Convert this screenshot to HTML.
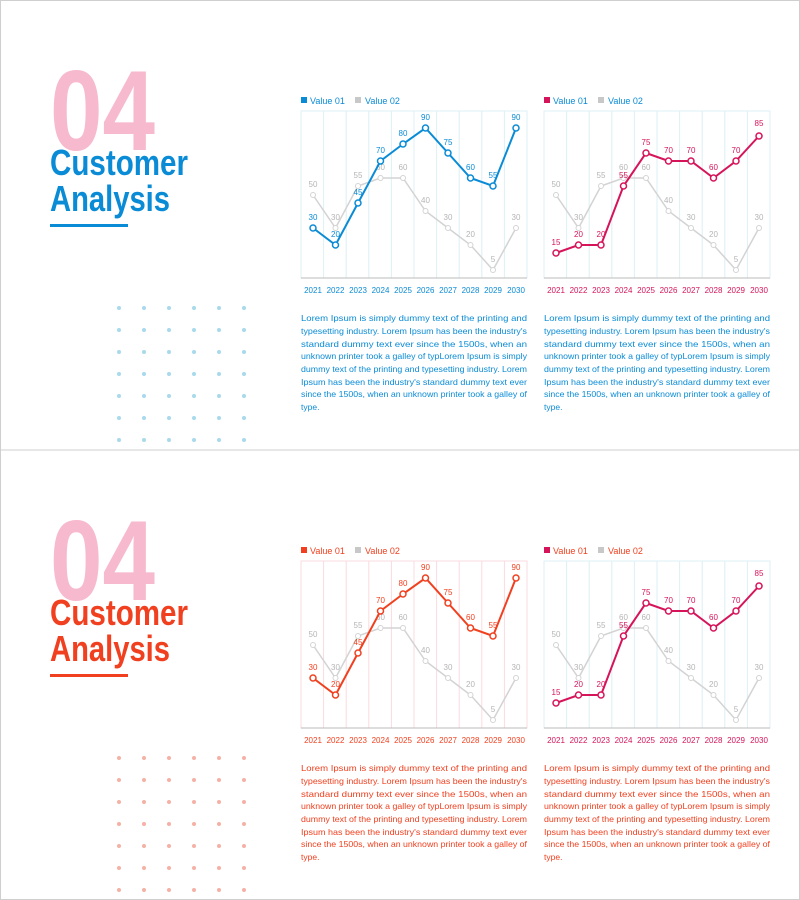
<!DOCTYPE html>
<html><head><meta charset="utf-8"><style>
html,body{margin:0;padding:0;background:#fff}
svg{display:block}
.t{font-family:"Liberation Sans Narrow","Liberation Sans",sans-serif}
</style></head><body>
<svg width="800" height="900" viewBox="0 0 800 900" xmlns="http://www.w3.org/2000/svg" class="t">
<rect x="0.5" y="0.5" width="799" height="899" fill="#fff" stroke="#cfcfcf"/>
<line x1="0" y1="450" x2="800" y2="450" stroke="#cfcfcf"/>

<!-- ================= TOP SLIDE ================= -->
<g>
<text x="50" y="150" font-size="114" font-weight="bold" fill="#f7b9cd" textLength="105" lengthAdjust="spacingAndGlyphs">04</text>
<text x="50" y="175" font-size="36" font-weight="bold" fill="#0a8bd6" textLength="138" lengthAdjust="spacingAndGlyphs">Customer</text>
<text x="50" y="211" font-size="36" font-weight="bold" fill="#0a8bd6" textLength="120" lengthAdjust="spacingAndGlyphs">Analysis</text>
<rect x="50" y="224" width="78" height="3" fill="#0a8bd6"/>
<g fill="#a9d9ec">
<circle cx="119" cy="308" r="2"/><circle cx="144" cy="308" r="2"/><circle cx="169" cy="308" r="2"/><circle cx="194" cy="308" r="2"/><circle cx="219" cy="308" r="2"/><circle cx="244" cy="308" r="2"/>
<circle cx="119" cy="330" r="2"/><circle cx="144" cy="330" r="2"/><circle cx="169" cy="330" r="2"/><circle cx="194" cy="330" r="2"/><circle cx="219" cy="330" r="2"/><circle cx="244" cy="330" r="2"/>
<circle cx="119" cy="352" r="2"/><circle cx="144" cy="352" r="2"/><circle cx="169" cy="352" r="2"/><circle cx="194" cy="352" r="2"/><circle cx="219" cy="352" r="2"/><circle cx="244" cy="352" r="2"/>
<circle cx="119" cy="374" r="2"/><circle cx="144" cy="374" r="2"/><circle cx="169" cy="374" r="2"/><circle cx="194" cy="374" r="2"/><circle cx="219" cy="374" r="2"/><circle cx="244" cy="374" r="2"/>
<circle cx="119" cy="396" r="2"/><circle cx="144" cy="396" r="2"/><circle cx="169" cy="396" r="2"/><circle cx="194" cy="396" r="2"/><circle cx="219" cy="396" r="2"/><circle cx="244" cy="396" r="2"/>
<circle cx="119" cy="418" r="2"/><circle cx="144" cy="418" r="2"/><circle cx="169" cy="418" r="2"/><circle cx="194" cy="418" r="2"/><circle cx="219" cy="418" r="2"/><circle cx="244" cy="418" r="2"/>
<circle cx="119" cy="440" r="2"/><circle cx="144" cy="440" r="2"/><circle cx="169" cy="440" r="2"/><circle cx="194" cy="440" r="2"/><circle cx="219" cy="440" r="2"/><circle cx="244" cy="440" r="2"/>
</g>

<!-- chart 1 -->
<g>
<rect x="301" y="97" width="6" height="6" fill="#0a8bd6"/><text x="310" y="104" font-size="9" fill="#0a8bd6">Value 01</text>
<rect x="355" y="97" width="6" height="6" fill="#c8c8c8"/><text x="365" y="104" font-size="9" fill="#0a8bd6">Value 02</text>
<rect x="301" y="111" width="226" height="167" fill="none" stroke="#dcf0f6"/>
<g stroke="#dcf0f6"><line x1="323.6" y1="111" x2="323.6" y2="278"/><line x1="346.2" y1="111" x2="346.2" y2="278"/><line x1="368.8" y1="111" x2="368.8" y2="278"/><line x1="391.4" y1="111" x2="391.4" y2="278"/><line x1="414" y1="111" x2="414" y2="278"/><line x1="436.6" y1="111" x2="436.6" y2="278"/><line x1="459.2" y1="111" x2="459.2" y2="278"/><line x1="481.8" y1="111" x2="481.8" y2="278"/><line x1="504.4" y1="111" x2="504.4" y2="278"/></g>
<line x1="301" y1="278" x2="527" y2="278" stroke="#bbb"/>
<polyline points="313,195 335.5,228 358,186 380.5,178 403,178 425.5,211 448,228 470.5,245 493,270 516,228" fill="none" stroke="#d3d3d3" stroke-width="1.5"/>
<g fill="#fff" stroke="#d3d3d3"><circle cx="313" cy="195" r="2.5"/><circle cx="335.5" cy="228" r="2.5"/><circle cx="358" cy="186" r="2.5"/><circle cx="380.5" cy="178" r="2.5"/><circle cx="403" cy="178" r="2.5"/><circle cx="425.5" cy="211" r="2.5"/><circle cx="448" cy="228" r="2.5"/><circle cx="470.5" cy="245" r="2.5"/><circle cx="493" cy="270" r="2.5"/><circle cx="516" cy="228" r="2.5"/></g>
<g font-size="8" fill="#b5b5b5" text-anchor="middle"><text x="313" y="187">50</text><text x="335.5" y="220">30</text><text x="358" y="178">55</text><text x="380.5" y="170">60</text><text x="403" y="170">60</text><text x="425.5" y="203">40</text><text x="448" y="220">30</text><text x="470.5" y="237">20</text><text x="493" y="262">5</text><text x="516" y="220">30</text></g>
<polyline points="313,228 335.5,245 358,203 380.5,161 403,144 425.5,128 448,153 470.5,178 493,186 516,128" fill="none" stroke="#0a8bd6" stroke-width="2"/>
<g fill="#fff" stroke="#0a8bd6" stroke-width="1.5"><circle cx="313" cy="228" r="3"/><circle cx="335.5" cy="245" r="3"/><circle cx="358" cy="203" r="3"/><circle cx="380.5" cy="161" r="3"/><circle cx="403" cy="144" r="3"/><circle cx="425.5" cy="128" r="3"/><circle cx="448" cy="153" r="3"/><circle cx="470.5" cy="178" r="3"/><circle cx="493" cy="186" r="3"/><circle cx="516" cy="128" r="3"/></g>
<g font-size="8" fill="#0a8bd6" text-anchor="middle"><text x="313" y="220">30</text><text x="335.5" y="237">20</text><text x="358" y="195">45</text><text x="380.5" y="153">70</text><text x="403" y="136">80</text><text x="425.5" y="120">90</text><text x="448" y="145">75</text><text x="470.5" y="170">60</text><text x="493" y="178">55</text><text x="516" y="120">90</text></g>
<g font-size="8" fill="#0a8bd6" text-anchor="middle"><text x="313" y="293">2021</text><text x="335.5" y="293">2022</text><text x="358" y="293">2023</text><text x="380.5" y="293">2024</text><text x="403" y="293">2025</text><text x="425.5" y="293">2026</text><text x="448" y="293">2027</text><text x="470.5" y="293">2028</text><text x="493" y="293">2029</text><text x="516" y="293">2030</text></g>
<g font-size="8.5" fill="#0a8bd6">
<text x="301" y="321" textLength="226" lengthAdjust="spacingAndGlyphs">Lorem Ipsum is simply dummy text of the printing and</text>
<text x="301" y="334" textLength="226" lengthAdjust="spacingAndGlyphs">typesetting industry. Lorem Ipsum has been the industry's</text>
<text x="301" y="347" textLength="226" lengthAdjust="spacingAndGlyphs">standard dummy text ever since the 1500s, when an</text>
<text x="301" y="359" textLength="226" lengthAdjust="spacingAndGlyphs">unknown printer took a galley of typLorem Ipsum is simply</text>
<text x="301" y="372" textLength="226" lengthAdjust="spacingAndGlyphs">dummy text of the printing and typesetting industry. Lorem</text>
<text x="301" y="385" textLength="226" lengthAdjust="spacingAndGlyphs">Ipsum has been the industry's standard dummy text ever</text>
<text x="301" y="397" textLength="226" lengthAdjust="spacingAndGlyphs">since the 1500s, when an unknown printer took a galley of</text>
<text x="301" y="410">type.</text>
</g>
</g>

<!-- chart 2 -->
<g>
<rect x="544" y="97" width="6" height="6" fill="#d6145a"/><text x="553" y="104" font-size="9" fill="#0a8bd6">Value 01</text>
<rect x="598" y="97" width="6" height="6" fill="#c8c8c8"/><text x="608" y="104" font-size="9" fill="#0a8bd6">Value 02</text>
<rect x="544" y="111" width="226" height="167" fill="none" stroke="#dcf0f6"/>
<g stroke="#dcf0f6"><line x1="566.6" y1="111" x2="566.6" y2="278"/><line x1="589.2" y1="111" x2="589.2" y2="278"/><line x1="611.8" y1="111" x2="611.8" y2="278"/><line x1="634.4" y1="111" x2="634.4" y2="278"/><line x1="657" y1="111" x2="657" y2="278"/><line x1="679.6" y1="111" x2="679.6" y2="278"/><line x1="702.2" y1="111" x2="702.2" y2="278"/><line x1="724.8" y1="111" x2="724.8" y2="278"/><line x1="747.4" y1="111" x2="747.4" y2="278"/></g>
<line x1="544" y1="278" x2="770" y2="278" stroke="#bbb"/>
<polyline points="556,195 578.5,228 601,186 623.5,178 646,178 668.5,211 691,228 713.5,245 736,270 759,228" fill="none" stroke="#d3d3d3" stroke-width="1.5"/>
<g fill="#fff" stroke="#d3d3d3"><circle cx="556" cy="195" r="2.5"/><circle cx="578.5" cy="228" r="2.5"/><circle cx="601" cy="186" r="2.5"/><circle cx="623.5" cy="178" r="2.5"/><circle cx="646" cy="178" r="2.5"/><circle cx="668.5" cy="211" r="2.5"/><circle cx="691" cy="228" r="2.5"/><circle cx="713.5" cy="245" r="2.5"/><circle cx="736" cy="270" r="2.5"/><circle cx="759" cy="228" r="2.5"/></g>
<g font-size="8" fill="#b5b5b5" text-anchor="middle"><text x="556" y="187">50</text><text x="578.5" y="220">30</text><text x="601" y="178">55</text><text x="623.5" y="170">60</text><text x="646" y="170">60</text><text x="668.5" y="203">40</text><text x="691" y="220">30</text><text x="713.5" y="237">20</text><text x="736" y="262">5</text><text x="759" y="220">30</text></g>
<polyline points="556,253 578.5,245 601,245 623.5,186 646,153 668.5,161 691,161 713.5,178 736,161 759,136" fill="none" stroke="#d6145a" stroke-width="2"/>
<g fill="#fff" stroke="#d6145a" stroke-width="1.5"><circle cx="556" cy="253" r="3"/><circle cx="578.5" cy="245" r="3"/><circle cx="601" cy="245" r="3"/><circle cx="623.5" cy="186" r="3"/><circle cx="646" cy="153" r="3"/><circle cx="668.5" cy="161" r="3"/><circle cx="691" cy="161" r="3"/><circle cx="713.5" cy="178" r="3"/><circle cx="736" cy="161" r="3"/><circle cx="759" cy="136" r="3"/></g>
<g font-size="8" fill="#d6145a" text-anchor="middle"><text x="556" y="245">15</text><text x="578.5" y="237">20</text><text x="601" y="237">20</text><text x="623.5" y="178">55</text><text x="646" y="145">75</text><text x="668.5" y="153">70</text><text x="691" y="153">70</text><text x="713.5" y="170">60</text><text x="736" y="153">70</text><text x="759" y="126">85</text></g>
<g font-size="8" fill="#d6145a" text-anchor="middle"><text x="556" y="293">2021</text><text x="578.5" y="293">2022</text><text x="601" y="293">2023</text><text x="623.5" y="293">2024</text><text x="646" y="293">2025</text><text x="668.5" y="293">2026</text><text x="691" y="293">2027</text><text x="713.5" y="293">2028</text><text x="736" y="293">2029</text><text x="759" y="293">2030</text></g>
<g font-size="8.5" fill="#0a8bd6">
<text x="544" y="321" textLength="226" lengthAdjust="spacingAndGlyphs">Lorem Ipsum is simply dummy text of the printing and</text>
<text x="544" y="334" textLength="226" lengthAdjust="spacingAndGlyphs">typesetting industry. Lorem Ipsum has been the industry's</text>
<text x="544" y="347" textLength="226" lengthAdjust="spacingAndGlyphs">standard dummy text ever since the 1500s, when an</text>
<text x="544" y="359" textLength="226" lengthAdjust="spacingAndGlyphs">unknown printer took a galley of typLorem Ipsum is simply</text>
<text x="544" y="372" textLength="226" lengthAdjust="spacingAndGlyphs">dummy text of the printing and typesetting industry. Lorem</text>
<text x="544" y="385" textLength="226" lengthAdjust="spacingAndGlyphs">Ipsum has been the industry's standard dummy text ever</text>
<text x="544" y="397" textLength="226" lengthAdjust="spacingAndGlyphs">since the 1500s, when an unknown printer took a galley of</text>
<text x="544" y="410">type.</text>
</g>
</g>
</g>

<!-- ================= BOTTOM SLIDE ================= -->
<g transform="translate(0,450)">
<text x="50" y="150" font-size="114" font-weight="bold" fill="#f7b9cd" textLength="105" lengthAdjust="spacingAndGlyphs">04</text>
<text x="50" y="175" font-size="36" font-weight="bold" fill="#f0401f" textLength="138" lengthAdjust="spacingAndGlyphs">Customer</text>
<text x="50" y="211" font-size="36" font-weight="bold" fill="#f0401f" textLength="120" lengthAdjust="spacingAndGlyphs">Analysis</text>
<rect x="50" y="224" width="78" height="3" fill="#f0401f"/>
<g fill="#f6b1a6">
<circle cx="119" cy="308" r="2"/><circle cx="144" cy="308" r="2"/><circle cx="169" cy="308" r="2"/><circle cx="194" cy="308" r="2"/><circle cx="219" cy="308" r="2"/><circle cx="244" cy="308" r="2"/>
<circle cx="119" cy="330" r="2"/><circle cx="144" cy="330" r="2"/><circle cx="169" cy="330" r="2"/><circle cx="194" cy="330" r="2"/><circle cx="219" cy="330" r="2"/><circle cx="244" cy="330" r="2"/>
<circle cx="119" cy="352" r="2"/><circle cx="144" cy="352" r="2"/><circle cx="169" cy="352" r="2"/><circle cx="194" cy="352" r="2"/><circle cx="219" cy="352" r="2"/><circle cx="244" cy="352" r="2"/>
<circle cx="119" cy="374" r="2"/><circle cx="144" cy="374" r="2"/><circle cx="169" cy="374" r="2"/><circle cx="194" cy="374" r="2"/><circle cx="219" cy="374" r="2"/><circle cx="244" cy="374" r="2"/>
<circle cx="119" cy="396" r="2"/><circle cx="144" cy="396" r="2"/><circle cx="169" cy="396" r="2"/><circle cx="194" cy="396" r="2"/><circle cx="219" cy="396" r="2"/><circle cx="244" cy="396" r="2"/>
<circle cx="119" cy="418" r="2"/><circle cx="144" cy="418" r="2"/><circle cx="169" cy="418" r="2"/><circle cx="194" cy="418" r="2"/><circle cx="219" cy="418" r="2"/><circle cx="244" cy="418" r="2"/>
<circle cx="119" cy="440" r="2"/><circle cx="144" cy="440" r="2"/><circle cx="169" cy="440" r="2"/><circle cx="194" cy="440" r="2"/><circle cx="219" cy="440" r="2"/><circle cx="244" cy="440" r="2"/>
</g>

<g>
<rect x="301" y="97" width="6" height="6" fill="#f0401f"/><text x="310" y="104" font-size="9" fill="#f0401f">Value 01</text>
<rect x="355" y="97" width="6" height="6" fill="#c8c8c8"/><text x="365" y="104" font-size="9" fill="#f0401f">Value 02</text>
<rect x="301" y="111" width="226" height="167" fill="none" stroke="#fadbe0"/>
<g stroke="#fadbe0"><line x1="323.6" y1="111" x2="323.6" y2="278"/><line x1="346.2" y1="111" x2="346.2" y2="278"/><line x1="368.8" y1="111" x2="368.8" y2="278"/><line x1="391.4" y1="111" x2="391.4" y2="278"/><line x1="414" y1="111" x2="414" y2="278"/><line x1="436.6" y1="111" x2="436.6" y2="278"/><line x1="459.2" y1="111" x2="459.2" y2="278"/><line x1="481.8" y1="111" x2="481.8" y2="278"/><line x1="504.4" y1="111" x2="504.4" y2="278"/></g>
<line x1="301" y1="278" x2="527" y2="278" stroke="#bbb"/>
<polyline points="313,195 335.5,228 358,186 380.5,178 403,178 425.5,211 448,228 470.5,245 493,270 516,228" fill="none" stroke="#d3d3d3" stroke-width="1.5"/>
<g fill="#fff" stroke="#d3d3d3"><circle cx="313" cy="195" r="2.5"/><circle cx="335.5" cy="228" r="2.5"/><circle cx="358" cy="186" r="2.5"/><circle cx="380.5" cy="178" r="2.5"/><circle cx="403" cy="178" r="2.5"/><circle cx="425.5" cy="211" r="2.5"/><circle cx="448" cy="228" r="2.5"/><circle cx="470.5" cy="245" r="2.5"/><circle cx="493" cy="270" r="2.5"/><circle cx="516" cy="228" r="2.5"/></g>
<g font-size="8" fill="#b5b5b5" text-anchor="middle"><text x="313" y="187">50</text><text x="335.5" y="220">30</text><text x="358" y="178">55</text><text x="380.5" y="170">60</text><text x="403" y="170">60</text><text x="425.5" y="203">40</text><text x="448" y="220">30</text><text x="470.5" y="237">20</text><text x="493" y="262">5</text><text x="516" y="220">30</text></g>
<polyline points="313,228 335.5,245 358,203 380.5,161 403,144 425.5,128 448,153 470.5,178 493,186 516,128" fill="none" stroke="#f0401f" stroke-width="2"/>
<g fill="#fff" stroke="#f0401f" stroke-width="1.5"><circle cx="313" cy="228" r="3"/><circle cx="335.5" cy="245" r="3"/><circle cx="358" cy="203" r="3"/><circle cx="380.5" cy="161" r="3"/><circle cx="403" cy="144" r="3"/><circle cx="425.5" cy="128" r="3"/><circle cx="448" cy="153" r="3"/><circle cx="470.5" cy="178" r="3"/><circle cx="493" cy="186" r="3"/><circle cx="516" cy="128" r="3"/></g>
<g font-size="8" fill="#f0401f" text-anchor="middle"><text x="313" y="220">30</text><text x="335.5" y="237">20</text><text x="358" y="195">45</text><text x="380.5" y="153">70</text><text x="403" y="136">80</text><text x="425.5" y="120">90</text><text x="448" y="145">75</text><text x="470.5" y="170">60</text><text x="493" y="178">55</text><text x="516" y="120">90</text></g>
<g font-size="8" fill="#f0401f" text-anchor="middle"><text x="313" y="293">2021</text><text x="335.5" y="293">2022</text><text x="358" y="293">2023</text><text x="380.5" y="293">2024</text><text x="403" y="293">2025</text><text x="425.5" y="293">2026</text><text x="448" y="293">2027</text><text x="470.5" y="293">2028</text><text x="493" y="293">2029</text><text x="516" y="293">2030</text></g>
<g font-size="8.5" fill="#f0401f">
<text x="301" y="321" textLength="226" lengthAdjust="spacingAndGlyphs">Lorem Ipsum is simply dummy text of the printing and</text>
<text x="301" y="334" textLength="226" lengthAdjust="spacingAndGlyphs">typesetting industry. Lorem Ipsum has been the industry's</text>
<text x="301" y="347" textLength="226" lengthAdjust="spacingAndGlyphs">standard dummy text ever since the 1500s, when an</text>
<text x="301" y="359" textLength="226" lengthAdjust="spacingAndGlyphs">unknown printer took a galley of typLorem Ipsum is simply</text>
<text x="301" y="372" textLength="226" lengthAdjust="spacingAndGlyphs">dummy text of the printing and typesetting industry. Lorem</text>
<text x="301" y="385" textLength="226" lengthAdjust="spacingAndGlyphs">Ipsum has been the industry's standard dummy text ever</text>
<text x="301" y="397" textLength="226" lengthAdjust="spacingAndGlyphs">since the 1500s, when an unknown printer took a galley of</text>
<text x="301" y="410">type.</text>
</g>
</g>

<g>
<rect x="544" y="97" width="6" height="6" fill="#d6145a"/><text x="553" y="104" font-size="9" fill="#f0401f">Value 01</text>
<rect x="598" y="97" width="6" height="6" fill="#c8c8c8"/><text x="608" y="104" font-size="9" fill="#f0401f">Value 02</text>
<rect x="544" y="111" width="226" height="167" fill="none" stroke="#dcf0f6"/>
<g stroke="#dcf0f6"><line x1="566.6" y1="111" x2="566.6" y2="278"/><line x1="589.2" y1="111" x2="589.2" y2="278"/><line x1="611.8" y1="111" x2="611.8" y2="278"/><line x1="634.4" y1="111" x2="634.4" y2="278"/><line x1="657" y1="111" x2="657" y2="278"/><line x1="679.6" y1="111" x2="679.6" y2="278"/><line x1="702.2" y1="111" x2="702.2" y2="278"/><line x1="724.8" y1="111" x2="724.8" y2="278"/><line x1="747.4" y1="111" x2="747.4" y2="278"/></g>
<line x1="544" y1="278" x2="770" y2="278" stroke="#bbb"/>
<polyline points="556,195 578.5,228 601,186 623.5,178 646,178 668.5,211 691,228 713.5,245 736,270 759,228" fill="none" stroke="#d3d3d3" stroke-width="1.5"/>
<g fill="#fff" stroke="#d3d3d3"><circle cx="556" cy="195" r="2.5"/><circle cx="578.5" cy="228" r="2.5"/><circle cx="601" cy="186" r="2.5"/><circle cx="623.5" cy="178" r="2.5"/><circle cx="646" cy="178" r="2.5"/><circle cx="668.5" cy="211" r="2.5"/><circle cx="691" cy="228" r="2.5"/><circle cx="713.5" cy="245" r="2.5"/><circle cx="736" cy="270" r="2.5"/><circle cx="759" cy="228" r="2.5"/></g>
<g font-size="8" fill="#b5b5b5" text-anchor="middle"><text x="556" y="187">50</text><text x="578.5" y="220">30</text><text x="601" y="178">55</text><text x="623.5" y="170">60</text><text x="646" y="170">60</text><text x="668.5" y="203">40</text><text x="691" y="220">30</text><text x="713.5" y="237">20</text><text x="736" y="262">5</text><text x="759" y="220">30</text></g>
<polyline points="556,253 578.5,245 601,245 623.5,186 646,153 668.5,161 691,161 713.5,178 736,161 759,136" fill="none" stroke="#d6145a" stroke-width="2"/>
<g fill="#fff" stroke="#d6145a" stroke-width="1.5"><circle cx="556" cy="253" r="3"/><circle cx="578.5" cy="245" r="3"/><circle cx="601" cy="245" r="3"/><circle cx="623.5" cy="186" r="3"/><circle cx="646" cy="153" r="3"/><circle cx="668.5" cy="161" r="3"/><circle cx="691" cy="161" r="3"/><circle cx="713.5" cy="178" r="3"/><circle cx="736" cy="161" r="3"/><circle cx="759" cy="136" r="3"/></g>
<g font-size="8" fill="#d6145a" text-anchor="middle"><text x="556" y="245">15</text><text x="578.5" y="237">20</text><text x="601" y="237">20</text><text x="623.5" y="178">55</text><text x="646" y="145">75</text><text x="668.5" y="153">70</text><text x="691" y="153">70</text><text x="713.5" y="170">60</text><text x="736" y="153">70</text><text x="759" y="126">85</text></g>
<g font-size="8" fill="#d6145a" text-anchor="middle"><text x="556" y="293">2021</text><text x="578.5" y="293">2022</text><text x="601" y="293">2023</text><text x="623.5" y="293">2024</text><text x="646" y="293">2025</text><text x="668.5" y="293">2026</text><text x="691" y="293">2027</text><text x="713.5" y="293">2028</text><text x="736" y="293">2029</text><text x="759" y="293">2030</text></g>
<g font-size="8.5" fill="#f0401f">
<text x="544" y="321" textLength="226" lengthAdjust="spacingAndGlyphs">Lorem Ipsum is simply dummy text of the printing and</text>
<text x="544" y="334" textLength="226" lengthAdjust="spacingAndGlyphs">typesetting industry. Lorem Ipsum has been the industry's</text>
<text x="544" y="347" textLength="226" lengthAdjust="spacingAndGlyphs">standard dummy text ever since the 1500s, when an</text>
<text x="544" y="359" textLength="226" lengthAdjust="spacingAndGlyphs">unknown printer took a galley of typLorem Ipsum is simply</text>
<text x="544" y="372" textLength="226" lengthAdjust="spacingAndGlyphs">dummy text of the printing and typesetting industry. Lorem</text>
<text x="544" y="385" textLength="226" lengthAdjust="spacingAndGlyphs">Ipsum has been the industry's standard dummy text ever</text>
<text x="544" y="397" textLength="226" lengthAdjust="spacingAndGlyphs">since the 1500s, when an unknown printer took a galley of</text>
<text x="544" y="410">type.</text>
</g>
</g>
</g>
</svg>
</body></html>
